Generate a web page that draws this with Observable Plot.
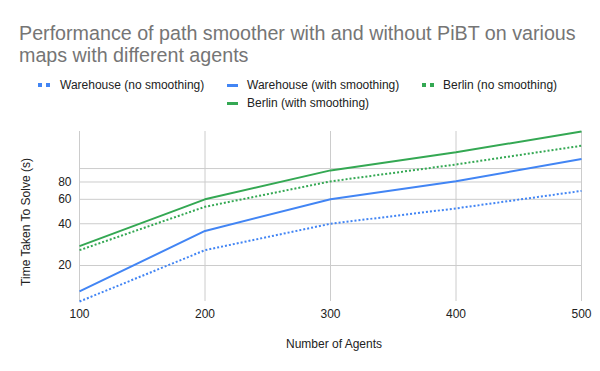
<!DOCTYPE html>
<html>
<head>
<meta charset="utf-8">
<script src="https://cdn.jsdelivr.net/npm/d3@7"></script>
<script src="https://cdn.jsdelivr.net/npm/@observablehq/plot@0.6"></script>
<style>
  body { margin: 0; background: #fff; }
  #wrap { position: relative; width: 600px; height: 371px; font-family: "Liberation Sans", Arial, sans-serif; background: #fff; overflow: hidden; }
  #title { position: absolute; left: 19px; top: 21.6px; font-size: 19.7px; line-height: 22px; color: #757575; white-space: nowrap; }
  .lg { position: absolute; font-size: 12px; line-height: 14px; color: #222; white-space: nowrap; }
  .sw { position: absolute; }
  .axt { position: absolute; font-size: 12px; line-height: 14px; color: #222; white-space: nowrap; transform-origin: center center; }
  #plot { position: absolute; left: 0; top: 120px; }
</style>
</head>
<body>
<div id="wrap">
  <div id="plot"></div>
  <div id="title"></div>
  <div id="legend"></div>
  <div id="xlab" class="axt"></div>
  <div id="ylab" class="axt"></div>
</div>
<script>
// ---- data ----
const titleLines = ["Performance of path smoother with and without PiBT on various", "maps with different agents"];
const xLabel = "Number of Agents";
const yLabel = "Time Taken To Solve (s)";
const agents = [100, 200, 300, 400, 500];
const seriesNames = ["Warehouse (no smoothing)", "Warehouse (with smoothing)", "Berlin (no smoothing)", "Berlin (with smoothing)"];
const warehouseNo = [11.0, 25.8, 40, 51.6, 69];
const warehouseWith = [13.0, 35.5, 60, 81, 117];
const berlinNo = [25.8, 53, 80.8, 107, 146];
const berlinWith = [27.6, 60, 97, 131, 185];
const yGridTicks = [20, 40, 60, 80, 100];
const yLabelTicks = [20, 40, 60, 80];

// ---- styles ----
const colors = ["#4285F4", "#4285F4", "#34A853", "#34A853"];
const dotted = [true, false, true, false];

const seriesValues = [warehouseNo, warehouseWith, berlinNo, berlinWith];
const rows = [];
seriesNames.forEach((name, i) => agents.forEach((a, j) => rows.push({series: name, agents: a, time: seriesValues[i][j]})));

// title
document.getElementById("title").innerHTML = titleLines.join("<br>");

// axis titles
const xl = document.getElementById("xlab");
xl.textContent = xLabel;
const yl = document.getElementById("ylab");
yl.textContent = yLabel;

// legend (positions)
const legendPos = [
  {sx: 38, tx: 60, top: 77.8, cy: 85},
  {sx: 227, tx: 247, top: 77.8, cy: 85},
  {sx: 422, tx: 443, top: 77.8, cy: 85},
  {sx: 227, tx: 247, top: 95.5, cy: 103.7}
];
const legend = document.getElementById("legend");
seriesNames.forEach((name, i) => {
  const p = legendPos[i];
  if (dotted[i]) {
    for (const off of [0, 8]) {
      const s = document.createElement("div");
      s.className = "sw";
      Object.assign(s.style, {left: (p.sx + off) + "px", top: (p.cy - 1.75) + "px", width: "3.5px", height: "3.5px", background: colors[i]});
      legend.appendChild(s);
    }
  } else {
    const s = document.createElement("div");
    s.className = "sw";
    Object.assign(s.style, {left: p.sx + "px", top: (p.cy - 1.5) + "px", width: "11px", height: "3px", background: colors[i]});
    legend.appendChild(s);
  }
  const t = document.createElement("div");
  t.className = "lg";
  t.textContent = name;
  Object.assign(t.style, {left: p.tx + "px", top: p.top + "px"});
  legend.appendChild(t);
});

const allValues = seriesValues.flat();

const chart = Plot.plot({
  width: 600,
  height: 251,
  marginTop: 11,
  marginBottom: 70,
  marginLeft: 79,
  marginRight: 19,
  style: {fontFamily: "Liberation Sans, Arial, sans-serif", fontSize: "12px", color: "#222", background: "#fff"},
  x: {type: "linear", domain: d3.extent(agents)},
  y: {type: "log", domain: d3.extent(allValues)},
  marks: [
    Plot.gridX({ticks: agents, stroke: "#cccccc", strokeOpacity: 1}),
    Plot.gridY({ticks: yGridTicks, stroke: "#cccccc", strokeOpacity: 1}),
    Plot.axisX({ticks: agents, tickSize: 0, tickPadding: 8, label: null, tickFormat: d => String(d)}),
    Plot.axisY({ticks: yLabelTicks, tickSize: 0, tickPadding: 8, label: null, tickFormat: d => String(d)}),
    ...seriesNames.map((name, i) => Plot.line(rows.filter(r => r.series === name), {
      x: "agents", y: "time", stroke: colors[i], strokeWidth: 2,
      strokeLinecap: "butt", strokeLinejoin: "miter",
      strokeDasharray: dotted[i] ? "2,2" : null
    }))
  ]
});
document.getElementById("plot").appendChild(chart);

requestAnimationFrame(() => {});
const xw = xl.offsetWidth, xh = xl.offsetHeight;
Object.assign(xl.style, {left: (334 - xw / 2) + "px", top: (344 - xh / 2) + "px"});
const yw = yl.offsetWidth, yh = yl.offsetHeight;
Object.assign(yl.style, {left: (25.7 - yw / 2) + "px", top: (222 - yh / 2) + "px", transform: "rotate(-90deg)"});
</script>
</body>
</html>
